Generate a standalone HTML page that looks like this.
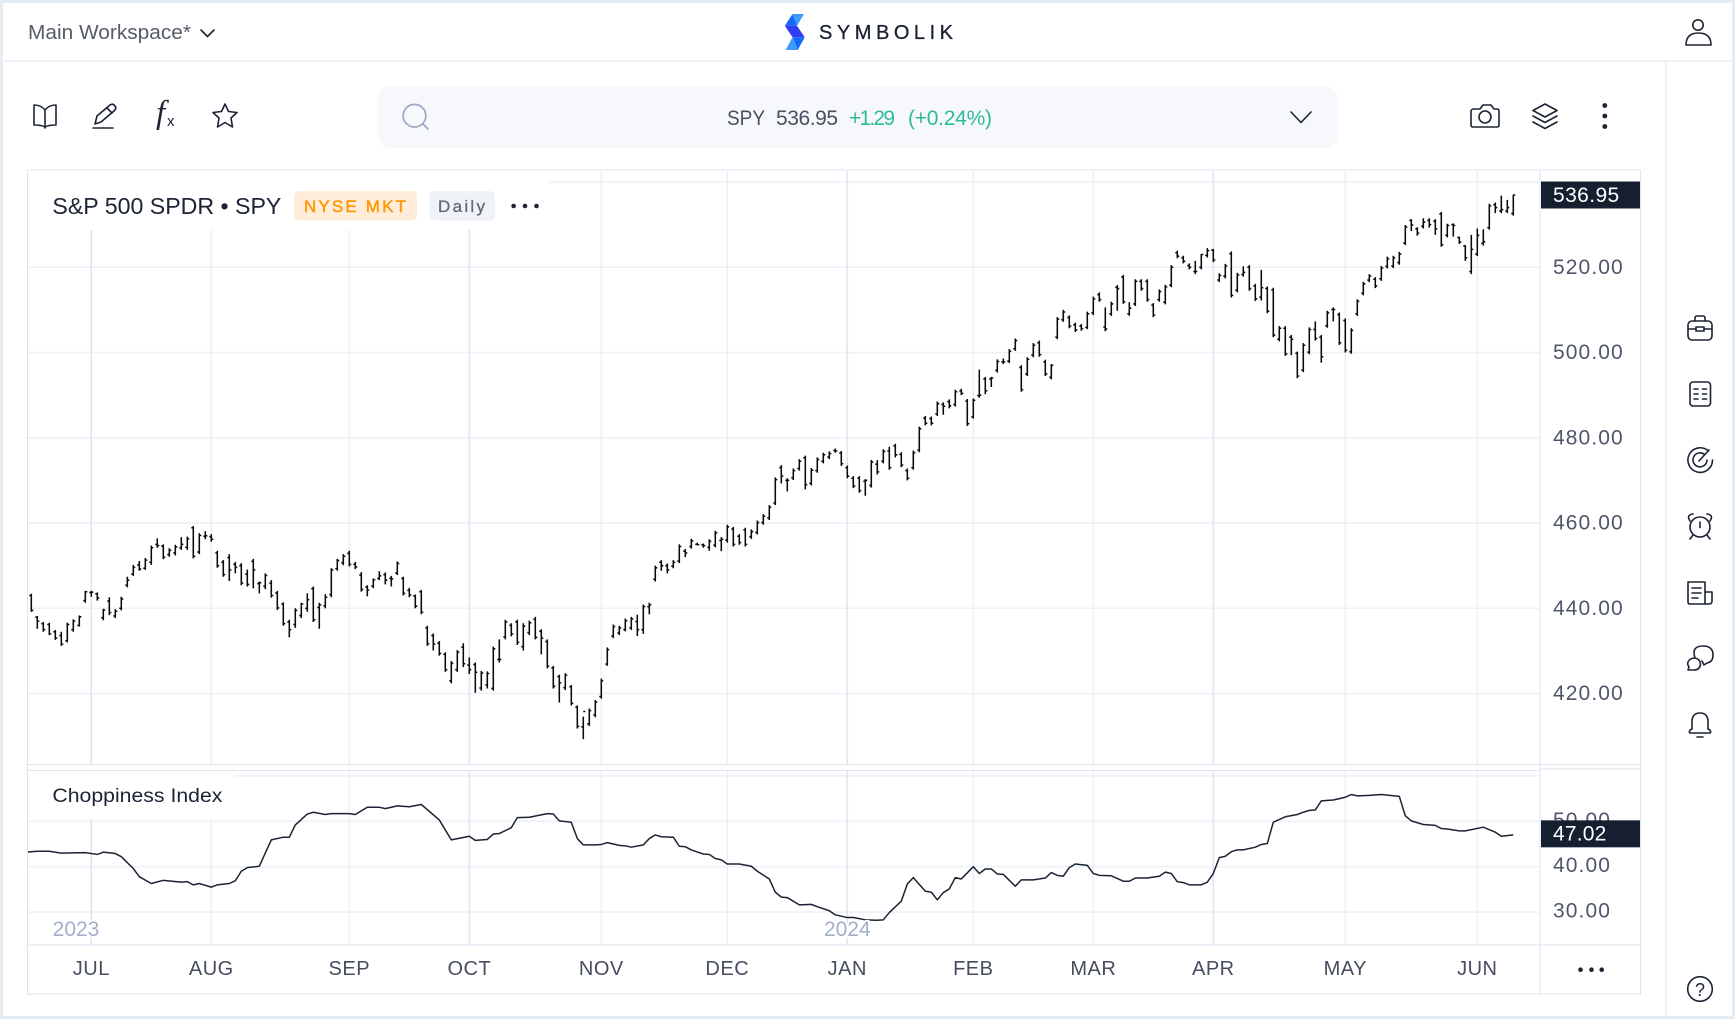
<!DOCTYPE html>
<html lang="en">
<head>
<meta charset="utf-8">
<title>SPY chart - Symbolik</title>
<style>
html,body{margin:0;padding:0;background:#e6edf2;width:1735px;height:1019px;overflow:hidden}
svg{display:block}
text{font-family:"Liberation Sans",sans-serif}
.ic{fill:none;stroke:#1c2334;stroke-width:1.6;stroke-linecap:round;stroke-linejoin:round}
.axis{font-size:21px;letter-spacing:1.1px;fill:#50566a}
.month{font-size:20px;letter-spacing:.5px;fill:#474d60;text-anchor:middle}
</style>
</head>
<body>
<svg id="page" xmlns="http://www.w3.org/2000/svg" width="1735" height="1019" viewBox="0 0 1735 1019">
  <rect x="0" y="0" width="1735" height="1019" fill="#e6edf2"/>
  <rect x="3" y="3" width="1729" height="1013" fill="#ffffff"/>
  <line x1="3" y1="61" x2="1732" y2="61" stroke="#e2e5ef" stroke-width="1"/>
  <line x1="1666" y1="61" x2="1666" y2="1016" stroke="#e2e5ef" stroke-width="1"/>

  <!-- header -->
  <text x="28" y="39" font-size="20" fill="#555b68" textLength="163" lengthAdjust="spacingAndGlyphs">Main Workspace*</text>
  <path class="ic" d="M201 30 L207.5 36.5 L214 30"/>
  <g>
    <polygon points="792.5,14 804,14 797,25.7" fill="#3d9bfb"/>
    <polygon points="792.5,14 797,25.7 784.8,25.7" fill="#1469f7"/>
    <polygon points="784.8,25.7 797,25.7 804.7,37.3 792.5,37.3" fill="#2e3cf6"/>
    <polygon points="792.5,37.3 804.7,37.3 797.8,50" fill="#1469f7"/>
    <polygon points="792.5,37.3 797.8,50 785.6,50" fill="#3d9bfb"/>
  </g>
  <text x="819" y="39" font-size="20" fill="#1b2233" stroke="#1b2233" stroke-width=".3" textLength="134">SYMBOLIK</text>
  <g class="ic">
    <circle cx="1698" cy="25" r="5.2"/>
    <path d="M1686 45 Q1686 33 1698.5 33 Q1711 33 1711 45 Z"/>
  </g>

  <!-- toolbar -->
  <g class="ic">
    <path d="M45 110 C42 106 37 105 34 105 V125 C37 125 42 125 45 127 C48 125 53 125 56 125 V105 C53 105 48 106 45 110 Z M45 110 V128"/>
  </g>
  <g class="ic">
    <path d="M95 124 L97 116 L110 105 Q113 103 115 106 Q117 108 114 111 L101 122 Z M93 128 H113 M107 108 L112 113"/>
  </g>
  <g>
    <text x="156" y="123" font-size="33" font-style="italic" fill="#1c2334" style="font-family:'Liberation Serif',serif">f</text>
    <text x="167" y="126" font-size="15" fill="#1c2334">x</text>
  </g>
  <polygon class="ic" points="225,104 228.5,111.5 237,112.5 231,118 232.5,127 225,122.5 217.5,127 219,118 213,112.5 221.5,111.5"/>

  <rect x="378" y="86" width="960" height="62" rx="13" fill="#f6f8fc"/>
  <g fill="none" stroke="#9aa9c4" stroke-width="1.7" stroke-linecap="round">
    <circle cx="414.5" cy="115.7" r="11.3"/>
    <path d="M423 124 L428 129"/>
  </g>
  <text x="727" y="125" font-size="21" fill="#4a5060" textLength="38" lengthAdjust="spacingAndGlyphs">SPY</text>
  <text x="776" y="125" font-size="21" fill="#4a5060" textLength="62">536.95</text>
  <text x="849" y="125" font-size="21" fill="#2dbb9a" textLength="46">+1.29</text>
  <text x="908" y="125" font-size="21" fill="#2dbb9a" textLength="84">(+0.24%)</text>
  <path class="ic" d="M1291 112 L1301 122.5 L1311 112"/>

  <g class="ic">
    <path d="M1475 109 H1480 L1483 105 H1491 L1494 109 H1497 Q1499 109 1499 111 V125 Q1499 127 1497 127 H1473 Q1471 127 1471 125 V111 Q1471 109 1475 109 Z"/>
    <circle cx="1485" cy="117" r="6"/>
  </g>
  <g class="ic">
    <path d="M1545 104 L1557 110.5 L1545 117 L1533 110.5 Z M1533 116 L1545 122.5 L1557 116 M1533 122 L1545 128.5 L1557 122"/>
  </g>
  <g fill="#1c2334">
    <circle cx="1604.8" cy="105.5" r="2.4"/><circle cx="1604.8" cy="116" r="2.4"/><circle cx="1604.8" cy="126.5" r="2.4"/>
  </g>

  <!-- right sidebar -->
  <g class="ic">
    <rect x="1688" y="321" width="24" height="19" rx="4"/>
    <path d="M1695 321 V318 Q1695 316 1697 316 H1703 Q1705 316 1705 318 V321 M1688 329 H1696 M1704 329 H1712"/>
    <rect x="1696" y="327" width="8" height="4"/>
  </g>
  <g class="ic">
    <rect x="1690" y="382" width="20.5" height="24" rx="3"/>
    <path d="M1694 389 H1698 M1702.5 389 H1706.5 M1694 394 H1698 M1702.5 394 H1706.5 M1694 399 H1698 M1702.5 399 H1706.5"/>
  </g>
  <g class="ic">
    <path d="M1708.5 451 A12.3 12.3 0 1 0 1712.5 460 M1704.5 454.5 A7 7 0 1 0 1707 460 M1699 461 L1709 450"/>
  </g>
  <g class="ic">
    <circle cx="1700" cy="527" r="10"/>
    <path d="M1690 521 Q1686 515 1693 514 M1710 521 Q1714 515 1707 514 M1693 535 L1690 539 M1707 535 L1710 539"/>
    <path d="M1700 522 V527.5"/>
  </g>
  <g class="ic">
    <path d="M1688 582 H1705 V604 H1690 Q1688 604 1688 602 Z M1705 592 H1712 V601 Q1712 604 1709 604 H1705 M1692 588 H1701 M1692 593 H1701 M1692 598 H1698"/>
  </g>
  <g class="ic">
    <path d="M1695 658 Q1691 646 1703 646 Q1713 646 1713 655 Q1713 662 1707 663 L1704 665 L1702 661"/>
    <path d="M1694 670 H1688 L1689 667 Q1687 664 1688 662 Q1690 658 1695 658 Q1700 659 1700.5 664 Q1700 670 1694 670 Z"/>
  </g>
  <g class="ic">
    <path d="M1700 713 Q1692 713 1692 722 V729 Q1688 731 1690 733 H1710 Q1712 731 1708 729 V722 Q1708 713 1700 713 Z M1697 737 H1703"/>
  </g>
  <g>
    <circle cx="1700" cy="989" r="12.3" fill="none" stroke="#1c2334" stroke-width="1.6"/>
    <text x="1700" y="996" font-size="18" text-anchor="middle" fill="#1c2334">?</text>
  </g>

  <!-- chart frame -->
  <rect x="27.5" y="170" width="1613" height="824" fill="#ffffff" stroke="#dfe3f0" stroke-width="1"/>
  <g id="grid"></g>

  <rect x="28" y="171" width="521" height="59" fill="#ffffff"/>
  <rect x="28" y="771" width="207" height="48" fill="#ffffff"/>

  <line x1="28" y1="764.5" x2="1640" y2="764.5" stroke="#dfe3f0" stroke-width="1"/>
  <rect x="28" y="765" width="1512" height="5" fill="#ffffff"/>
  <line x1="28" y1="770.5" x2="1540" y2="770.5" stroke="#dfe3f0" stroke-width="1"/>
  <line x1="1540" y1="769" x2="1640" y2="769" stroke="#dfe3f0" stroke-width="1"/>
  <line x1="28" y1="945" x2="1640" y2="945" stroke="#dfe3f0" stroke-width="1"/>
  <line x1="1540" y1="170" x2="1540" y2="994" stroke="#dfe3f0" stroke-width="1"/>

  <g id="bars"></g>
  <g id="chop"></g>
  <g id="axes"></g>

  <!-- legends -->
  <text x="52.4" y="214" font-size="23" fill="#1c2334" textLength="229" lengthAdjust="spacingAndGlyphs">S&amp;P 500 SPDR • SPY</text>
  <rect x="294" y="191" width="123" height="29.5" rx="5" fill="#ffedd9"/>
  <text x="304" y="212" font-size="17" fill="#ff9500" stroke="#ff9500" stroke-width=".4" textLength="102">NYSE MKT</text>
  <rect x="429.4" y="191" width="65.6" height="29.5" rx="5" fill="#eff2f7"/>
  <text x="438" y="212" font-size="17" fill="#62687c" stroke="#62687c" stroke-width=".3" textLength="47">Daily</text>
  <g fill="#1c2334">
    <circle cx="513.6" cy="206" r="2.3"/><circle cx="525" cy="206" r="2.3"/><circle cx="536.5" cy="206" r="2.3"/>
  </g>
  <text x="52.4" y="802" font-size="19.5" fill="#1c2334" textLength="170" lengthAdjust="spacingAndGlyphs">Choppiness Index</text>
  <g fill="#1c2334">
    <circle cx="1580.5" cy="969.7" r="2.3"/><circle cx="1591.5" cy="969.7" r="2.3"/><circle cx="1601.7" cy="969.7" r="2.3"/>
  </g>
</svg>

<script>
// ---- data -------------------------------------------------------------
const opens = [
443.0,437.9,436.4,436.2,434.5,433.6,432.4,435.0,436.0,441.8,
443.7,443.4,437.8,441.7,438.2,440.0,445.4,448.0,450.2,449.4,
450.8,455.0,454.6,452.6,453.0,454.2,454.3,458.9,453.2,456.9,
456.8,453.0,450.8,451.9,450.3,450.0,448.0,451.0,445.8,445.2,
445.9,443.6,441.0,436.8,436.2,438.3,440.0,444.6,440.2,440.6,
443.2,449.3,450.7,452.9,450.3,447.8,445.0,445.2,447.0,447.9,
447.0,448.3,447.0,444.2,442.9,443.9,435.4,433.6,431.8,429.2,
423.0,425.6,430.9,426.7,426.8,421.3,422.0,421.2,428.0,433.3,
436.0,436.8,431.0,434.3,437.4,434.6,432.2,426.0,424.0,421.4,
421.6,416.8,412.2,412.9,415.0,419.3,426.9,433.5,434.2,435.0,
435.4,436.9,435.0,440.4,446.8,450.8,450.0,449.9,451.1,453.4,
454.5,455.0,454.9,454.3,454.8,455.9,456.0,458.6,456.9,458.4,
456.8,457.8,460.1,461.2,464.7,473.0,470.0,470.6,472.8,475.3,
469.3,472.3,474.5,475.5,477.0,476.4,473.0,470.5,470.5,469.8,
468.8,473.8,474.5,476.9,478.1,476.1,472.3,473.0,477.1,484.6,
484.5,485.6,487.8,488.5,487.8,491.0,488.6,484.9,489.9,493.8,
493.8,495.8,497.8,498.0,500.9,496.5,495.0,499.4,502.3,497.8,
494.2,503.6,507.7,508.2,506.5,506.2,505.9,509.3,513.6,506.0,
509.1,515.3,517.7,509.1,511.4,516.7,516.7,511.1,512.4,511.8,
515.8,523.4,522.2,520.4,519.0,520.0,522.8,524.0,517.0,517.9,
523.2,514.6,518.3,520.0,515.6,513.0,515.0,514.7,503.1,505.7,
503.6,499.8,495.9,500.1,505.4,503.6,506.3,510.1,508.9,507.5,
500.2,509.1,513.9,517.0,517.2,517.3,520.2,520.3,521.1,525.7,
531.0,529.0,529.6,531.0,530.8,532.5,527.5,530.0,527.0,525.0,
519.0,523.1,525.6,529.3,534.7,533.2,533.2,532.6];
const highs = [
443.4,438.2,436.8,436.6,434.9,434.5,436.6,437.4,438.3,444.1,
444.1,443.7,439.9,442.6,439.8,442.7,447.4,450.2,451.1,451.8,
454.7,456.4,455.0,454.1,454.9,456.7,456.8,459.3,457.6,458.1,
457.4,453.5,451.3,452.7,450.9,450.6,449.1,451.6,446.3,448.2,
446.6,444.1,441.4,437.3,440.0,441.3,443.5,445.1,441.3,443.3,
449.4,451.6,452.7,453.5,450.9,448.5,445.4,447.0,448.7,448.4,
447.6,451.0,447.4,444.8,443.2,444.3,435.9,434.1,432.3,429.7,
427.6,430.2,431.8,428.5,427.3,425.3,425.2,431.0,432.7,437.3,
436.5,437.3,436.5,437.1,438.0,435.1,432.7,426.5,424.4,424.8,
422.0,417.2,414.6,416.5,418.5,423.5,430.8,436.2,435.9,437.6,
438.0,438.5,440.9,441.3,450.0,451.3,450.5,451.3,455.0,453.9,
456.3,455.4,455.2,456.2,458.2,456.7,459.6,459.1,457.4,458.9,
458.5,460.6,462.1,464.2,470.7,473.6,470.5,472.8,475.0,475.8,
472.9,475.4,476.5,476.8,477.5,476.9,473.5,471.0,471.0,470.3,
474.8,474.8,477.3,477.9,478.6,476.6,472.8,477.0,482.6,485.1,
485.0,488.5,488.3,489.0,491.3,491.5,489.1,489.2,496.0,494.3,
494.3,498.4,498.6,500.8,503.3,497.0,498.9,502.2,502.8,498.3,
497.3,508.3,510.0,508.7,507.0,506.7,509.6,513.1,514.1,510.6,
511.9,515.8,518.2,511.8,517.2,517.2,517.2,511.6,514.8,515.9,
520.5,523.9,522.7,520.9,521.5,523.1,524.5,524.3,518.6,520.8,
523.7,518.7,520.2,520.5,516.1,519.4,515.5,515.2,506.2,506.2,
504.1,500.2,502.2,505.9,507.3,504.1,509.8,510.6,509.4,508.0,
505.7,512.5,516.6,518.4,517.7,520.3,522.5,522.7,523.6,529.9,
531.3,529.4,531.5,531.5,531.3,533.0,530.2,530.3,527.2,525.2,
527.6,529.1,528.9,534.9,535.2,536.8,535.8,537.0];
const lows = [
439.2,435.2,434.5,433.7,432.6,431.2,432.0,434.5,435.7,441.3,
442.7,441.8,437.2,438.4,437.7,439.5,444.9,447.6,448.8,449.0,
450.2,454.2,451.5,452.1,452.4,453.7,453.7,451.7,452.7,456.2,
455.6,449.5,447.4,446.4,448.2,445.4,445.1,444.7,443.5,444.5,
442.5,439.6,435.9,433.2,435.4,437.7,439.2,436.8,435.2,440.0,
442.6,448.8,450.1,449.8,449.2,443.9,442.8,444.7,446.6,445.6,
445.1,447.8,443.0,442.6,440.0,438.6,431.2,430.1,428.9,425.1,
422.4,425.1,426.2,424.6,420.2,420.7,421.2,420.7,427.3,432.7,
433.4,431.4,430.1,433.7,432.7,429.2,425.9,421.2,417.9,420.8,
417.2,411.8,409.3,412.4,414.4,418.8,426.5,433.0,433.7,434.6,
434.9,433.5,434.0,438.6,446.3,448.8,448.2,449.4,450.6,452.0,
454.0,454.8,454.2,453.5,454.3,453.4,455.4,454.5,454.9,454.5,
456.3,457.3,459.6,460.7,464.2,469.3,467.4,470.1,472.3,467.9,
468.8,471.8,474.0,475.0,476.5,473.4,470.5,468.2,467.1,466.4,
468.3,471.4,474.0,472.5,475.4,473.1,470.0,472.5,476.6,482.9,
482.9,485.1,485.4,486.9,487.3,490.0,482.8,484.5,489.4,490.2,
491.9,495.3,497.3,497.5,500.4,490.8,494.5,498.9,499.0,494.5,
493.7,503.1,507.2,505.7,504.8,505.1,505.5,508.8,511.9,505.0,
508.6,509.8,511.4,508.6,510.9,514.5,511.9,508.3,511.9,511.3,
515.3,522.1,520.9,519.5,518.4,519.5,522.3,521.2,516.5,517.4,
512.9,514.1,517.8,514.5,512.1,512.2,509.2,503.6,502.6,499.2,
499.4,494.0,495.4,499.6,502.8,497.6,505.8,507.3,501.8,500.0,
499.7,508.6,513.4,516.5,515.1,516.8,519.7,519.8,520.6,525.2,
528.5,527.4,529.1,529.3,527.6,524.8,527.0,527.2,525.5,521.5,
518.4,522.6,525.1,528.8,532.7,532.7,532.7,532.1];
const closes = [
439.5,437.0,435.0,434.0,433.0,431.6,436.2,437.0,438.0,443.9,
443.8,442.4,439.6,439.0,439.3,442.2,446.6,449.6,449.2,451.3,
454.2,454.7,452.0,453.6,454.4,455.0,456.3,452.2,457.1,457.0,
456.2,450.0,447.9,449.0,449.6,445.9,445.6,449.0,446.0,447.7,
443.0,440.1,436.4,435.0,439.5,441.0,442.0,437.3,440.8,442.6,
449.0,451.2,452.2,450.3,449.7,444.4,444.3,446.7,447.6,446.6,
446.9,450.5,443.5,443.1,440.5,439.1,431.7,431.6,429.4,425.6,
427.1,429.7,427.0,425.6,425.0,424.8,424.7,430.5,428.0,436.8,
434.0,432.0,435.8,436.6,433.2,433.0,426.4,421.7,422.5,424.3,
417.7,412.3,415.8,416.0,418.0,423.0,430.3,435.7,435.4,437.1,
437.5,435.0,440.4,440.8,449.5,450.0,449.0,450.8,454.5,453.0,
455.8,454.9,454.7,455.7,457.7,456.2,459.1,455.0,455.4,455.0,
458.0,460.1,461.6,463.7,470.2,471.0,470.0,472.3,474.5,469.0,
472.4,474.9,476.0,476.3,476.9,473.9,471.0,468.7,467.6,470.0,
474.3,472.0,476.8,473.0,476.0,473.6,470.5,476.5,482.1,483.4,
483.4,488.0,487.4,487.5,490.8,490.4,483.3,488.8,490.0,491.0,
494.0,497.9,497.8,500.3,502.8,491.3,498.4,501.7,499.5,495.0,
497.0,507.8,509.5,506.2,505.3,505.6,509.1,512.6,512.4,505.5,
511.4,515.0,511.9,510.4,516.7,515.0,512.4,508.8,514.3,515.4,
520.0,522.6,521.4,520.0,519.0,523.0,523.9,521.7,518.1,520.3,
513.4,518.2,518.8,515.0,512.6,515.2,509.7,504.1,505.7,499.7,
503.1,494.5,501.7,505.4,503.3,499.0,509.3,510.1,502.3,500.5,
505.2,512.0,516.1,517.9,515.6,519.8,522.0,522.2,523.1,529.4,
529.9,528.0,530.6,530.0,529.0,525.3,529.8,529.8,525.9,522.2,
524.2,527.5,526.0,534.4,534.0,533.5,534.0,536.95];

// Choppiness Index: trading-session number and indicator value at each turn of the line
const chopSessions = [-1,1,3,5,9,11,12,14,15,17,18,20,22,25,26,27,28,30,31,33,34,35,36,38,40,42,43,44,46,47,49,50,53,54,56,58,59,61,63,65,68,70,73,74,76,77,78,80,81,83,86,87,88,90,91,92,94,95,96,98,99,100,102,103,104,105,107,108,109,110,112,113,114,115,116,118,120,121,123,124,125,126,128,130,131,133,134,136,137,139,141,142,143,145,146,147,149,150,151,152,153,154,155,157,158,159,160,161,162,164,165,167,169,170,171,172,173,174,176,177,178,180,182,183,184,186,188,189,190,191,192,193,195,196,197,198,199,200,201,202,204,205,206,207,209,211,212,213,214,215,217,219,220,221,223,225,228,229,230,232,234,235,236,238,239,242,244,245,247];
const chopValues = [43.2,43.4,43.4,43.0,43.1,42.7,43.2,42.9,42.2,39.6,37.8,36.3,37.0,36.6,36.7,36.0,36.3,35.5,36.0,36.3,36.9,39.0,39.8,40.1,45.9,46.5,46.5,49.2,51.6,52.0,51.5,51.7,51.7,51.5,53.1,53.1,52.8,53.4,53.2,53.7,50.3,45.9,46.7,45.8,46.0,47.2,47.3,48.6,50.8,50.9,51.7,51.6,50.1,49.8,46.2,44.8,44.8,44.9,45.3,44.7,44.6,44.3,44.8,46.2,47.0,46.6,46.5,44.5,44.4,43.7,42.8,42.7,41.8,41.5,40.6,40.6,40.1,39.0,37.3,34.4,33.3,33.2,31.6,31.7,31.2,30.3,29.4,28.8,28.8,28.3,28.2,28.3,29.9,32.4,36.2,37.6,34.6,34.4,32.7,34.3,35.1,37.6,37.3,40.0,38.5,39.5,39.5,38.4,38.3,35.7,37.1,37.1,37.5,38.7,38.1,37.9,39.8,40.6,40.3,38.5,38.1,38.0,36.8,36.8,37.5,37.5,37.9,38.8,38.5,36.7,36.5,36.0,36.0,36.6,38.5,42.0,42.3,43.3,43.7,43.7,44.3,44.9,45.1,49.8,51.0,51.5,52.0,52.4,52.5,54.5,54.7,55.3,55.9,55.6,55.7,55.9,55.5,51.2,50.1,49.3,49.1,48.4,48.3,47.9,47.9,48.7,47.6,46.7,47.02];

const monthLabels = ['JUL','AUG','SEP','OCT','NOV','DEC','JAN','FEB','MAR','APR','MAY','JUN'];
const monthFirstSession = [10,30,53,73,95,116,136,157,177,197,219,241];
const quarterMonths = ['JUL','OCT','JAN','APR'];
const priceGridValues = [420,440,460,480,500,520,540];
const priceTickLabels = ['420.00','440.00','460.00','480.00','500.00','520.00'];
const chopGridValues = [30,40,50,60];
const chopTickLabels = ['50.00','40.00','30.00'];
const lastPrice = 536.95;
const lastChop = 47.02;
const yearLabels = ['2023','2024'];
const yearFirstSession = [2,136];

// ---- axis functions ----------------------------------------------------
function xSession(i){ return 31.3 + 6 * i; }
function yPrice(p){ return 608.3 - (p - 440) * 4.263; }
function yChop(v){ return 866.7 - (v - 40) * 4.54; }

const NS = 'http://www.w3.org/2000/svg';
function mk(tag, parent, attrs){
  const e = document.createElementNS(NS, tag);
  for (const k in attrs) e.setAttribute(k, attrs[k]);
  parent.appendChild(e);
  return e;
}
const grid = document.getElementById('grid');
const barsG = document.getElementById('bars');
const chopG = document.getElementById('chop');
const axes = document.getElementById('axes');

// gridlines
priceGridValues.forEach(function(v){
  const l = mk('line', grid, {x1:28, x2:1540, y1:yPrice(v), y2:yPrice(v), stroke:'#eef1f7', 'stroke-width':1.6});
  
  
});
chopGridValues.forEach(function(v){
  const l = mk('line', grid, {x1:28, x2:1540, y1:yChop(v), y2:yChop(v), stroke:'#eef1f7', 'stroke-width':1.6});
  
  
});
monthLabels.forEach(function(m, i){
  const q = quarterMonths.indexOf(m) >= 0;
  const x = xSession(monthFirstSession[i]);
  const a = mk('line', grid, {x1:x, x2:x, y1:171, y2:764, stroke:q ? '#e0e5f2' : '#ebeef7', 'stroke-width':q ? 1.6 : 1.3});
  
  
  const b = mk('line', grid, {x1:x, x2:x, y1:771, y2:945, stroke:q ? '#e0e5f2' : '#ebeef7', 'stroke-width':q ? 1.6 : 1.3});
  
  
  const t = mk('text', axes, {x:x, y:975, class:'month'});
  t.textContent = m;
  
  
});

// OHLC bars
closes.forEach(function(c, i){
  const x = xSession(i);
  const d = 'M' + x + ' ' + yPrice(highs[i]) + 'V' + yPrice(lows[i]) +
            'M' + (x - 2) + ' ' + yPrice(opens[i]) + 'H' + x +
            'M' + x + ' ' + yPrice(c) + 'H' + (x + 2);
  const p = mk('path', barsG, {d:d, fill:'none', stroke:'#0a0a0a', 'stroke-width':1.55});
  
  
});

// Choppiness line
const clip = mk('clipPath', chopG, {id:'chopClip'});
mk('rect', clip, {x:28, y:771, width:1512, height:174});
const linePts = chopValues.map(function(v, i){ return xSession(chopSessions[i]) + ',' + yChop(v); }).join(' ');
const chopLine = mk('polyline', chopG, {points:linePts, fill:'none', stroke:'#1c2334', 'stroke-width':1.5, 'stroke-linejoin':'round', 'clip-path':'url(#chopClip)'});



// year labels
yearLabels.forEach(function(y, i){
  const t = mk('text', axes, {x:i === 0 ? 76 : xSession(yearFirstSession[i]), y:936, 'font-size':21, fill:'#a3afc9', 'text-anchor':'middle', stroke:'#ffffff', 'stroke-width':3, 'paint-order':'stroke'});
  t.textContent = y;
  
  
});

// value axes
priceTickLabels.forEach(function(s){
  const t = mk('text', axes, {x:1553, y:yPrice(parseFloat(s)) + 6.5, class:'axis'});
  t.textContent = s;
  
  
});
chopTickLabels.forEach(function(s){
  const t = mk('text', axes, {x:1553, y:yChop(parseFloat(s)) + 5.5, class:'axis'});
  t.textContent = s;
  
  
});

// last-value tags
const priceTag = mk('rect', axes, {x:1541, y:yPrice(lastPrice) - 13.5, width:99, height:27, fill:'#161f30'});


const priceTagText = mk('text', axes, {x:1553, y:yPrice(lastPrice) + 7, 'font-size':21, 'letter-spacing':.4, fill:'#ffffff'});
priceTagText.textContent = lastPrice.toFixed(2);


const chopTag = mk('rect', axes, {x:1541, y:yChop(lastChop) - 14.5, width:99, height:27, fill:'#161f30'});


const chopTagText = mk('text', axes, {x:1553, y:yChop(lastChop) + 5.5, 'font-size':21, 'letter-spacing':.2, fill:'#ffffff'});
chopTagText.textContent = lastChop.toFixed(2);


</script>
</body>
</html>
